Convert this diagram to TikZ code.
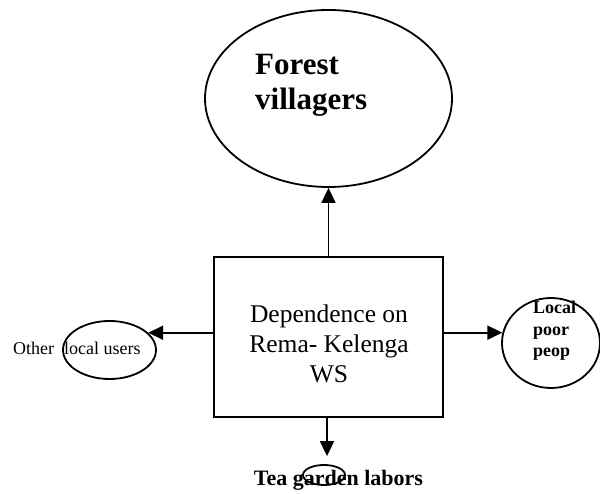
\documentclass[tikz,border=0pt]{standalone}
\usepackage{fontspec}
\setmainfont{Liberation Serif}
\usetikzlibrary{shapes.geometric,arrows.meta}
\begin{document}
\begin{tikzpicture}[x=1pt,y=1pt,
  outline/.style={draw=black,line width=1.8pt},
  oval/.style={outline,ellipse,inner sep=0pt},
  arr/.style={line width=1.8pt,-{Triangle[length=15pt,width=14pt]}},
  lbl/.style={inner sep=0pt,anchor=base west}]
\useasboundingbox (0,0) rectangle (600,494);

% central box (multi-line labels are anchored on their last baseline)
\node[outline,rectangle,minimum width=229pt,minimum height=160pt,inner sep=0pt]
  (rect) at (328.5,157) {};
\node[inner sep=0pt,anchor=base,align=center,font=\fontsize{25.5}{30}\selectfont]
  (rectlbl) at (329,111) {Dependence on\\Rema- Kelenga\\WS};

% forest villagers
\node[oval,minimum width=247pt,minimum height=177pt] (forest) at (328.5,395.5) {};
\node[lbl,align=left,font=\bfseries\fontsize{31}{35}\selectfont]
  (forestlbl) at (255,384) {Forest\\villagers};

% other local users
\node[oval,minimum width=93pt,minimum height=58pt] (other) at (109.5,144) {};
\node[lbl,font=\fontsize{18}{21}\selectfont] (otherlbl) at (13,139)
  {Other\hspace{0.3em} local users};

% local poor people
\node[oval,minimum width=98pt,minimum height=90pt] (poor) at (551,151) {};
\node[lbl,align=left,font=\bfseries\fontsize{18}{21.5}\selectfont]
  (poorlbl) at (533,137) {Local\\poor\\peop};

% tea garden labors
\node[oval,minimum width=42pt,minimum height=20pt] (tea) at (324,19) {};
\node[inner sep=0pt,anchor=base,font=\bfseries\fontsize{22}{26}\selectfont]
  (tealbl) at (338.5,8) {Tea garden labors};

% connectors
\draw[arr] (rect.north) -- (forest.south);
\draw[arr] (rect.west |- other.24) -- (other.24);
\draw[arr] (rect.east |- poor.168) -- (poor.168);
\draw[arr,shorten >=8pt] ([xshift=-1.5pt]rect.south) -- ([xshift=-1.5pt]rect.south |- tea.north);
\end{tikzpicture}
\end{document}
